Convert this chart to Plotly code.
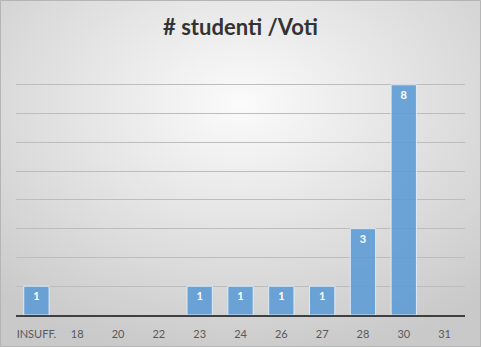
import plotly.graph_objects as go
import urllib.parse

categories = ["INSUFF.", "18", "20", "22", "23", "24", "26", "27", "28", "30", "31"]
values = [1, 0, 0, 0, 1, 1, 1, 1, 3, 8, 0]
labels = [f"<b>{v}</b>" if v > 0 else "" for v in values]

W, H = 481, 347

svg = (
    f'<svg xmlns="http://www.w3.org/2000/svg" width="{W}" height="{H}">'
    '<defs><radialGradient id="g" cx="50%" cy="30%" r="75%">'
    '<stop offset="0%" stop-color="#fbfbfb"/>'
    '<stop offset="100%" stop-color="#c9c9c9"/>'
    '</radialGradient></defs>'
    f'<rect width="{W}" height="{H}" fill="url(#g)"/></svg>'
)
src = "data:image/svg+xml;charset=utf-8," + urllib.parse.quote(svg)

fig = go.Figure(
    go.Bar(
        x=categories,
        y=values,
        text=labels,
        textposition="inside",
        insidetextanchor="end",
        textfont=dict(color="white", size=11, family="Lato"),
        marker=dict(color="rgba(91,155,213,0.88)",
                    line=dict(color="rgba(230,240,250,0.9)",
                              width=[1 if v > 0 else 0 for v in values])),
        width=0.62,
        cliponaxis=False,
    )
)

fig.update_layout(
    width=W,
    height=H,
    margin=dict(l=16, r=16, t=56, b=32, autoexpand=False),
    paper_bgcolor="#e3e3e3",
    plot_bgcolor="rgba(0,0,0,0)",
    showlegend=False,
    title=dict(
        text="<b># studenti /Voti</b>",
        x=0.5,
        xanchor="center",
        y=1 - 27 / H,
        yanchor="middle",
        font=dict(family="Lato", size=22, color="#333333"),
    ),
    images=[dict(source=src, xref="paper", yref="paper", x=-16 / 449, y=1 + 56 / 259,
                 sizex=W / 449, sizey=H / 259, xanchor="left", yanchor="top",
                 sizing="stretch", layer="below")],
    shapes=[dict(type="rect", xref="paper", yref="paper",
                 x0=-16 / 449 + 0.5 / 449, x1=1 + 16 / 449 - 0.5 / 449,
                 y0=-32 / 259 + 0.5 / 259, y1=1 + 56 / 259 - 0.5 / 259,
                 line=dict(color="#b5b5b5", width=1), layer="above")],
)

fig.update_xaxes(
    automargin=False,
    showgrid=False,
    showline=True,
    linecolor="#404040",
    linewidth=2,
    ticks="outside",
    ticklen=8,
    tickcolor="rgba(0,0,0,0)",
    tickfont=dict(family="Lato", size=11, color="#595959"),
)
fig.update_yaxes(
    automargin=False,
    range=[0, 9],
    dtick=1,
    showticklabels=False,
    showgrid=True,
    gridcolor="#bdbdbd",
    gridwidth=1,
    zeroline=False,
)

fig.write_html("out.html")
